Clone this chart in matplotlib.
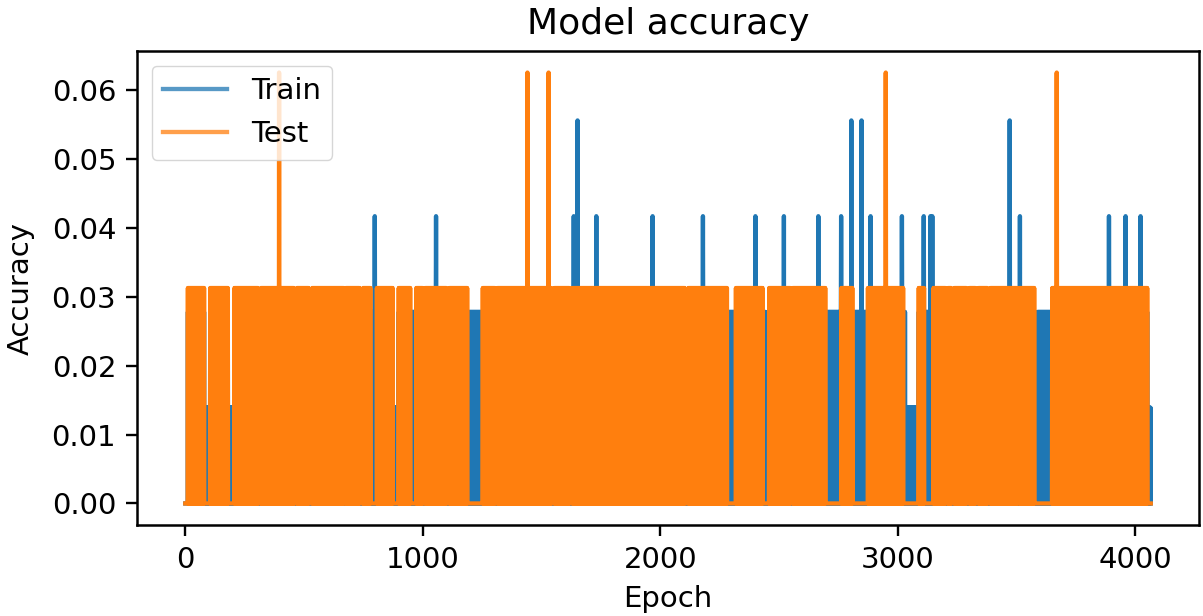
import numpy as np
import matplotlib.pyplot as plt

n_epochs = 4067

# test accuracy (batch of 32): dense bands flicker between 0 and 1/32,
# these epoch ranges stay at 0
test_gaps = [(0, 10), (80, 104), (181, 206), (307, 318), (458, 471), (521, 535),
             (668, 676), (735, 748), (781, 806), (874, 899), (948, 973),
             (1000, 1011), (1101, 1113), (1189, 1252), (1305, 1315),
             (1543, 1555), (1618, 1630), (2105, 2118), (2283, 2319),
             (2433, 2458), (2548, 2559), (2697, 2762), (2811, 2874),
             (3025, 3088), (3113, 3151), (3202, 3212), (3227, 3239),
             (3290, 3303), (3328, 3340), (3378, 3391), (3504, 3512),
             (3576, 3651), (4053, 4067)]
test_peaks = [395, 1441, 1530, 2950, 3670]          # 2/32

# train accuracy (batch of 72): flicker between 0 and 2/72,
# lower band (1/72) in these ranges
train_zero = [(0, 10)]
train_low = [(80, 104), (181, 206), (458, 471), (521, 535), (874, 899),
             (1000, 1011), (2445, 2458), (3033, 3088), (3202, 3212),
             (3576, 3588), (4053, 4067)]
train_peaks3 = [798, 1056, 1636, 1731, 1968, 2180, 2401, 2521, 2666, 2762,
                2886, 3018, 3110, 3138, 3146, 3515, 3890, 3960, 4023]
train_peaks4 = [1652, 2805, 2848, 3472]

epochs = np.arange(n_epochs)
flicker = (epochs % 2).astype(float)

test = flicker.copy()
for a, b in test_gaps:
    test[a:b] = 0
test[test_peaks] = 2
test = test / 32

train = flicker * 2
for a, b in train_low:
    train[a:b] = flicker[a:b]
for a, b in train_zero:
    train[a:b] = 0
train[train_peaks3] = 3
train[train_peaks4] = 4
train = train / 72

fig = plt.figure(figsize=(12.03, 6.16), dpi=100)
ax = fig.add_axes([0.1139, 0.1477, 0.8828, 0.7695])
ax.plot(epochs, train, lw=3.1, label="Train")
ax.plot(epochs, test, lw=3.1, label="Test")
ax.set_xticks([0, 1000, 2000, 3000, 4000])
ax.set_title("Model accuracy", fontsize=26, pad=12)
ax.set_ylabel("Accuracy", fontsize=21, labelpad=12)
ax.set_xlabel("Epoch", fontsize=21, labelpad=8)
ax.tick_params(labelsize=21, length=8, width=1.7, pad=7)
for s in ax.spines.values():
    s.set_linewidth(1.8)
leg = ax.legend(loc="upper left", fontsize=21, handlelength=2.2,
                handletextpad=0.8, borderaxespad=0.5)
for h in leg.get_lines():
    h.set_alpha(0.75)
fig.savefig("out.png", dpi=100)
